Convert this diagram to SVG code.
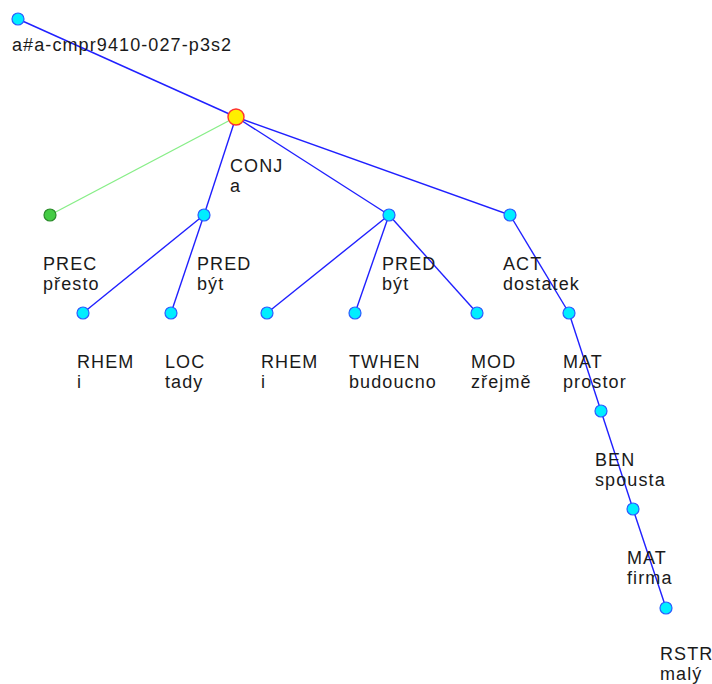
<svg xmlns="http://www.w3.org/2000/svg" width="712" height="684" viewBox="0 0 712 684">
<style>
text{font-family:"Liberation Sans",Arial,sans-serif;font-size:18px;letter-spacing:1.1px;fill:#1a1a1a}
.e{stroke:#2020ff;stroke-width:1.4;fill:none}
.g{stroke:#88ee88;stroke-width:1.4;fill:none}
.n{fill:#00eeff;stroke:#2a5cff;stroke-width:1.2}
</style>
<rect width="712" height="684" fill="#ffffff"/>
<g id="connectors">
<line class="e" x1="18" y1="19" x2="236" y2="117"/>
<line class="g" x1="236" y1="117" x2="50" y2="215"/>
<line class="e" x1="236" y1="117" x2="204" y2="215"/>
<line class="e" x1="236" y1="117" x2="389" y2="215"/>
<line class="e" x1="236" y1="117" x2="510" y2="215"/>
<line class="e" x1="204" y1="215" x2="83" y2="313"/>
<line class="e" x1="204" y1="215" x2="171" y2="313"/>
<line class="e" x1="389" y1="215" x2="267" y2="313"/>
<line class="e" x1="389" y1="215" x2="355" y2="313"/>
<line class="e" x1="389" y1="215" x2="477" y2="313"/>
<line class="e" x1="510" y1="215" x2="569" y2="313"/>
<line class="e" x1="569" y1="313" x2="601" y2="411"/>
<line class="e" x1="601" y1="411" x2="633" y2="509"/>
<line class="e" x1="633" y1="509" x2="666" y2="608"/>
</g>
<g id="root"><circle class="n" cx="18" cy="19" r="6"/><text x="12" y="51">a#a-cmpr9410-027-p3s2</text></g>
<g id="conj"><circle cx="236" cy="117" r="8" fill="#ffee00" stroke="#ff3030" stroke-width="1.4"/><text x="230" y="172">CONJ</text><text x="230" y="192">a</text></g>
<g id="prec"><circle cx="50" cy="215" r="6" fill="#44cc44" stroke="#2a8a2a" stroke-width="1.2"/><text x="43" y="270">PREC</text><text x="43" y="290">přesto</text></g>
<g id="pred1"><circle class="n" cx="204" cy="215" r="6"/><text x="197" y="270">PRED</text><text x="197" y="290">být</text></g>
<g id="pred2"><circle class="n" cx="389" cy="215" r="6"/><text x="382" y="270">PRED</text><text x="382" y="290">být</text></g>
<g id="act"><circle class="n" cx="510" cy="215" r="6"/><text x="503" y="270">ACT</text><text x="503" y="290">dostatek</text></g>
<g id="rhem1"><circle class="n" cx="83" cy="313" r="6"/><text x="77" y="368">RHEM</text><text x="77" y="388">i</text></g>
<g id="loc"><circle class="n" cx="171" cy="313" r="6"/><text x="165" y="368">LOC</text><text x="165" y="388">tady</text></g>
<g id="rhem2"><circle class="n" cx="267" cy="313" r="6"/><text x="261" y="368">RHEM</text><text x="261" y="388">i</text></g>
<g id="twhen"><circle class="n" cx="355" cy="313" r="6"/><text x="349" y="368">TWHEN</text><text x="349" y="388">budoucno</text></g>
<g id="mod"><circle class="n" cx="477" cy="313" r="6"/><text x="471" y="368">MOD</text><text x="471" y="388">zřejmě</text></g>
<g id="mat1"><circle class="n" cx="569" cy="313" r="6"/><text x="563" y="368">MAT</text><text x="563" y="388">prostor</text></g>
<g id="ben"><circle class="n" cx="601" cy="411" r="6"/><text x="595" y="466">BEN</text><text x="595" y="486">spousta</text></g>
<g id="mat2"><circle class="n" cx="633" cy="509" r="6"/><text x="627" y="564">MAT</text><text x="627" y="584">firma</text></g>
<g id="rstr"><circle class="n" cx="666" cy="608" r="6"/><text x="660" y="660">RSTR</text><text x="660" y="680">malý</text></g>
</svg>
